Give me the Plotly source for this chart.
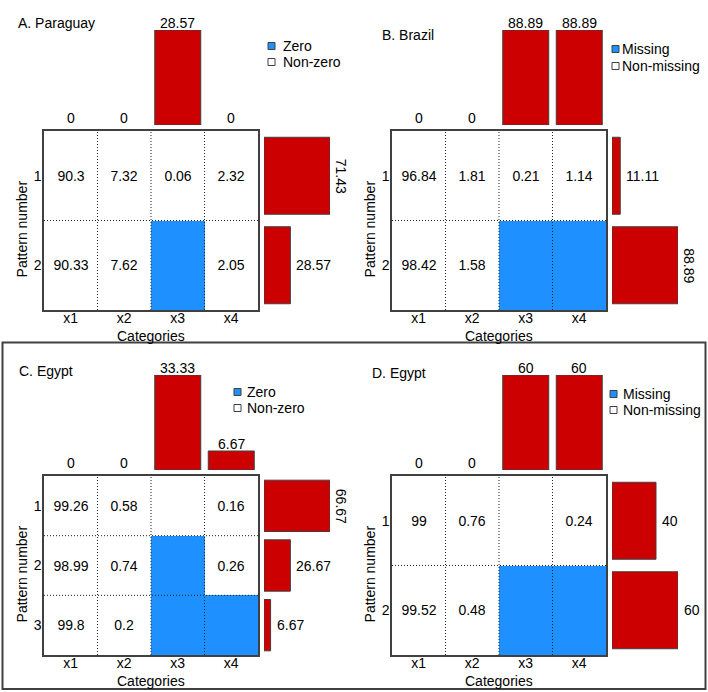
import plotly.graph_objects as go

W, H = 708, 692
FONT = "Liberation Sans, Arial, sans-serif"
RED = "#CC0000"
BLUE = "#1E90FF"
EDGE = "#404040"

categories = ["x1", "x2", "x3", "x4"]

# A. Paraguay (zero patterns)
a_values = [[90.3, 7.32, 0.06, 2.32], [90.33, 7.62, None, 2.05]]
a_flags = [[0, 0, 0, 0], [0, 0, 1, 0]]
a_top = [0, 0, 28.57, 0]
a_right = [71.43, 28.57]

# B. Brazil (missing patterns)
b_values = [[96.84, 1.81, 0.21, 1.14], [98.42, 1.58, None, None]]
b_flags = [[0, 0, 0, 0], [0, 0, 1, 1]]
b_top = [0, 0, 88.89, 88.89]
b_right = [11.11, 88.89]

# C. Egypt (zero patterns)
c_values = [[99.26, 0.58, None, 0.16], [98.99, 0.74, None, 0.26], [99.8, 0.2, None, None]]
c_flags = [[0, 0, 0, 0], [0, 0, 1, 0], [0, 0, 1, 1]]
c_top = [0, 0, 33.33, 6.67]
c_right = [66.67, 26.67, 6.67]

# D. Egypt (missing patterns)
d_values = [[99, 0.76, None, 0.24], [99.52, 0.48, None, None]]
d_flags = [[0, 0, 0, 0], [0, 0, 1, 1]]
d_top = [0, 0, 60, 60]
d_right = [40, 60]

panels = [
    dict(title="A. Paraguay", keys=("Zero", "Non-zero"), values=a_values, flags=a_flags,
         top=a_top, right=a_right, ox=0, oy=0, title_xy=(16, 23), leg=(268, 282, 46, 62)),
    dict(title="B. Brazil", keys=("Missing", "Non-missing"), values=b_values, flags=b_flags,
         top=b_top, right=b_right, ox=348, oy=0, title_xy=(380, 35), leg=(612, 621, 49, 66)),
    dict(title="C. Egypt", keys=("Zero", "Non-zero"), values=c_values, flags=c_flags,
         top=c_top, right=c_right, ox=0, oy=345, title_xy=(17, 371), leg=(234, 246, 392, 408)),
    dict(title="D. Egypt", keys=("Missing", "Non-missing"), values=d_values, flags=d_flags,
         top=d_top, right=d_right, ox=348, oy=345, title_xy=(370, 373), leg=(610, 622, 394, 410)),
]


def fmt(v):
    return "" if v is None else f"{v:g}"


def dx(x0, x1):
    return [x0 / W, x1 / W]


def dy(y0, y1):
    return [1 - y1 / H, 1 - y0 / H]


def nm(k):
    return "" if k == 1 else str(k)


fig = go.Figure()
layout = {}
shapes = []
annotations = []
hidden = dict(visible=False, showgrid=False, zeroline=False, fixedrange=True)
dotted = dict(color="#222222", width=1, dash="1px,2px")
txt = dict(size=14, color="black")

for p, pan in enumerate(panels):
    ox, oy = pan["ox"], pan["oy"]
    ncol = len(categories)
    nrow = len(pan["values"])
    km, kt, kr = 3 * p + 1, 3 * p + 2, 3 * p + 3
    cols = list(range(1, ncol + 1))
    rows = list(range(1, nrow + 1))
    mx_dom = dx(ox + 44, ox + 258)
    my_dom = dy(oy + 131, oy + 310)

    axline = dict(showline=True, mirror=True, linecolor=EDGE, linewidth=1.5, ticks="",
                  showgrid=False, zeroline=False, tickfont=txt, fixedrange=True)
    layout["xaxis" + nm(km)] = dict(domain=mx_dom, range=[0.5, ncol + 0.5], tickvals=cols,
                                    ticktext=categories, anchor="y" + nm(km),
                                    ticklabelstandoff=-6, **axline)
    layout["yaxis" + nm(km)] = dict(domain=my_dom, range=[nrow + 0.5, 0.5], tickvals=rows,
                                    ticktext=[str(r) for r in rows], anchor="x" + nm(km),
                                    ticklabelstandoff=-2, **axline)
    layout["xaxis" + nm(kt)] = dict(domain=mx_dom, range=[0.5, ncol + 0.5], anchor="y" + nm(kt), **hidden)
    layout["yaxis" + nm(kt)] = dict(domain=dy(oy + 30, oy + 125), range=[0, max(pan["top"])],
                                    anchor="x" + nm(kt), **hidden)
    layout["xaxis" + nm(kr)] = dict(domain=dx(ox + 264, ox + 330), range=[0, max(pan["right"])],
                                    anchor="y" + nm(kr), **hidden)
    layout["yaxis" + nm(kr)] = dict(domain=my_dom, range=[nrow + 0.5, 0.5], anchor="x" + nm(kr), **hidden)

    # pattern matrix
    fig.add_trace(go.Heatmap(
        x=cols, y=rows, z=pan["flags"], zmin=0, zmax=1,
        colorscale=[[0, "white"], [1, BLUE]], showscale=False,
        text=[[fmt(v) for v in r] for r in pan["values"]], texttemplate="%{text}",
        textfont=txt, hoverinfo="skip",
        xaxis="x" + nm(km), yaxis="y" + nm(km)))

    # dotted cell separators
    for i in cols[:-1]:
        shapes.append(dict(type="line", xref="x" + nm(km), yref="y" + nm(km) + " domain",
                           x0=i + 0.5, x1=i + 0.5, y0=0, y1=1, line=dotted))
    for j in rows[:-1]:
        shapes.append(dict(type="line", xref="x" + nm(km) + " domain", yref="y" + nm(km),
                           x0=0, x1=1, y0=j + 0.5, y1=j + 0.5, line=dotted))

    # column bars on top
    fig.add_trace(go.Bar(
        x=cols, y=pan["top"], width=0.86, marker_color=RED,
        marker_line=dict(color=EDGE, width=[1 if v > 0 else 0 for v in pan["top"]]),
        hoverinfo="skip", xaxis="x" + nm(kt), yaxis="y" + nm(kt)))
    for c, v in zip(cols, pan["top"]):
        annotations.append(dict(xref="x" + nm(kt), yref="y" + nm(kt), x=c, y=v, text=fmt(v),
                                showarrow=False, xanchor="center", yanchor="middle",
                                yshift=7, borderpad=0, font=txt))

    # pattern bars on the right
    fig.add_trace(go.Bar(
        y=rows, x=pan["right"], orientation="h", width=0.86, marker_color=RED,
        marker_line=dict(color=EDGE, width=1), hoverinfo="skip",
        xaxis="x" + nm(kr), yaxis="y" + nm(kr)))
    rmax = max(pan["right"])
    for r, v in zip(rows, pan["right"]):
        lab = fmt(v)
        rot = v == rmax and len(lab) > 3
        annotations.append(dict(
            xref="x" + nm(kr), yref="y" + nm(kr), x=v, y=r, text=lab, showarrow=False,
            xanchor="left", yanchor="middle", xshift=1 if rot else 4, textangle=90 if rot else 0,
            font=txt))

    # axis titles
    annotations.append(dict(xref="x" + nm(km) + " domain", yref="y" + nm(km) + " domain",
                            x=0.5, y=0, yshift=-26, xanchor="center", yanchor="middle",
                            text="Categories", showarrow=False, font=txt))
    annotations.append(dict(xref="x" + nm(km) + " domain", yref="y" + nm(km) + " domain",
                            x=0, y=0.45, xshift=-22, xanchor="center", yanchor="middle",
                            text="Pattern number", textangle=-90, showarrow=False, font=txt))

    # panel title
    tx, ty = pan["title_xy"]
    annotations.append(dict(xref="paper", yref="paper", x=tx / W, y=1 - ty / H, xanchor="left",
                            yanchor="middle", text=pan["title"], showarrow=False, font=txt))

    # legend keys
    sx, tx2, y1, y2 = pan["leg"]
    for yy, col, lab in [(y1, BLUE, pan["keys"][0]), (y2, "white", pan["keys"][1])]:
        shapes.append(dict(type="rect", xref="paper", yref="paper",
                           x0=sx / W, x1=(sx + 7) / W, y0=1 - (yy + 3.5) / H, y1=1 - (yy - 3.5) / H,
                           fillcolor=col, line=dict(color=EDGE, width=1)))
        annotations.append(dict(xref="paper", yref="paper", x=tx2 / W, y=1 - yy / H,
                                xanchor="left", yanchor="middle", text=lab, showarrow=False,
                                borderpad=0, font=txt))

# frame around the lower two panels
shapes.append(dict(type="rect", xref="paper", yref="paper", x0=2.5 / W, x1=705.5 / W,
                   y0=1 - 689 / H, y1=1 - 342.5 / H, line=dict(color=EDGE, width=2)))

fig.update_layout(
    width=W, height=H,
    margin=dict(l=0, r=0, t=0, b=0),
    paper_bgcolor="white", plot_bgcolor="white",
    font=dict(family=FONT, size=14, color="black"),
    showlegend=False, barmode="overlay",
    shapes=shapes, annotations=annotations,
    **layout,
)

# the page body has a default margin; drop it so the figure fills the window
fig.write_html("out.html", config={"displayModeBar": False},
               post_script="document.body.style.margin='0';")
